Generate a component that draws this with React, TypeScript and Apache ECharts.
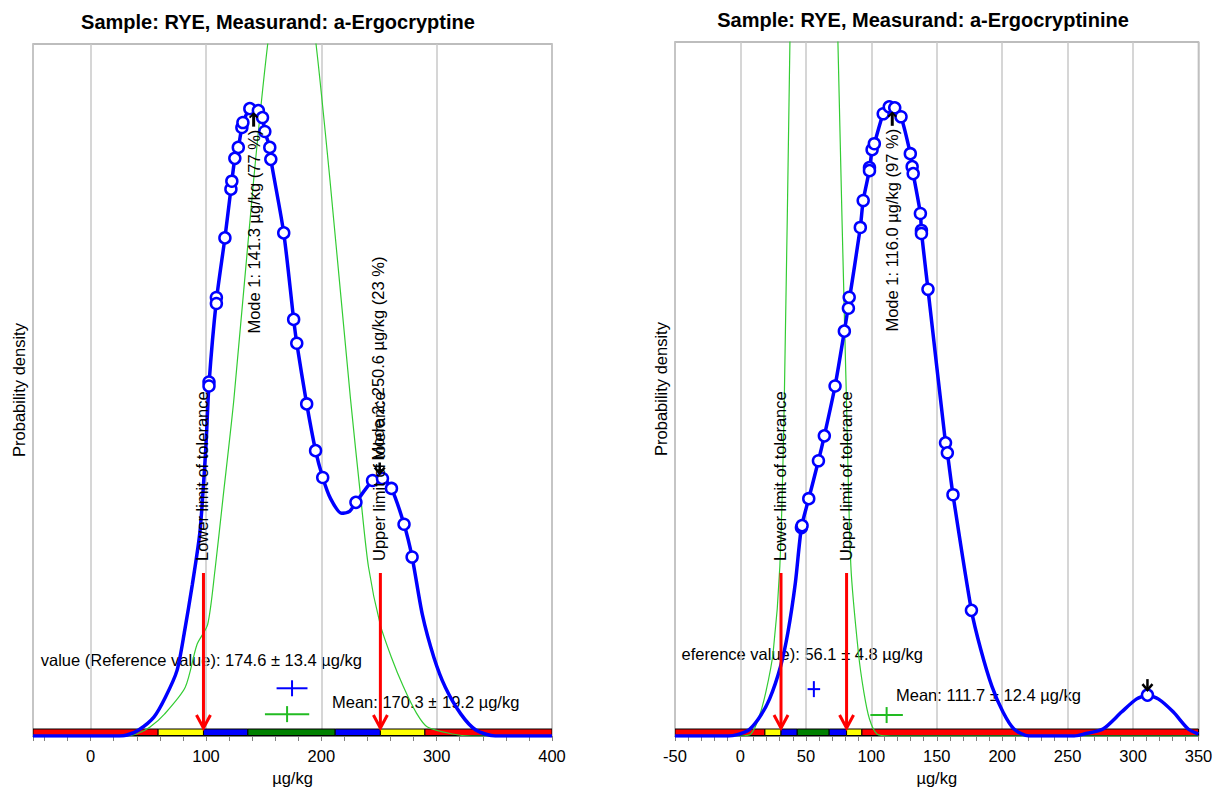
import React, { useEffect, useRef } from "react";
import * as echarts from "echarts";

const FONT = '"Liberation Sans", Arial, Helvetica, sans-serif';
const FS = 16.5;

// ---------------- Left panel: a-Ergocryptine ----------------
const ergTitle = "Sample: RYE, Measurand: a-Ergocryptine";
// kernel density of the participants' results (x in µg/kg, relative density)
const ergDensity = [
  [-50, 0], [25, 0], [31.5, 1], [41.6, 6], [54.8, 19], [64.8, 39], [74.9, 66], [81.5, 106],
  [88.1, 152], [94.8, 206], [99.8, 289], [102.6, 354], [109, 438], [116.4, 501], [121.6, 550],
  [125, 581], [128, 592], [131.1, 612], [134.5, 624], [138, 631], [141.3, 634], [145.4, 629],
  [149, 622], [151, 608], [155.3, 592], [156.2, 580], [167.4, 506], [176, 419], [178.7, 395],
  [187.3, 334], [195, 287], [201.2, 260], [207.9, 239], [217.5, 224], [224.5, 226], [230, 235],
  [244.4, 257], [250.6, 259], [253, 259], [260.8, 249], [271.7, 213], [278.7, 180], [287.6, 122],
  [297.6, 79], [307.5, 49], [321, 22], [334, 6], [350.8, 0], [400, 0],
];
// individual laboratory results placed on the density curve
const ergResults = [
  [102.6, 356], [102.6, 352], [109, 441], [109, 435], [116.4, 501], [121.6, 550], [122.4, 558],
  [125, 581], [128, 592], [131.1, 612], [132, 617], [138, 631], [145.4, 629], [149, 622],
  [151, 608], [155.3, 592], [156.2, 580], [167.4, 506], [176, 419], [178.7, 395], [187.3, 334],
  [195, 287], [201.2, 260], [230, 235], [244.4, 257], [253, 259], [260.8, 249], [271.7, 213],
  [278.7, 180],
];
// normal density around the assigned value
const ergReference = [
  [-50, 0], [30, 0], [40, 2], [51.5, 9], [64, 22], [82, 49], [92.2, 92], [101.4, 112],
  [107.7, 166], [114.7, 239], [124.2, 339], [141.3, 559], [153.4, 695], [164, 785], [174.6, 812],
  [185, 785], [195.5, 695], [207.5, 559], [225.3, 339], [234.4, 237], [240.9, 170], [251.1, 112],
  [260.8, 79], [271, 50], [282.5, 23], [292, 9], [313.6, 2], [330, 0], [400, 0],
];
const ergAssigned = [174.6, 13.4];
const ergMean = [170.3, 19.2];
const ergCrossLevels = [48, 22];
const ergLimits = [97.8, 251.2];
const ergZoneEdges = [58.5, 97.8, 136.3, 212, 251.2, 289.8];
const ergModes = [141.3, 250.6];
const ergModeDensity = [634, 259];
const ergModeShare = [77, 23];

// ---------------- Right panel: a-Ergocryptinine ----------------
const ergnTitle = "Sample: RYE, Measurand: a-Ergocryptinine";
const ergnDensity = [
  [-50, 0], [-9, 0], [5.2, 5], [13.7, 17], [22.2, 37], [30.7, 70], [36.3, 104], [42, 154],
  [46.6, 209], [52.2, 238], [59.6, 276], [64.1, 301], [72.3, 351], [79.4, 406], [82.8, 434],
  [91.6, 510], [93.8, 537], [98.6, 568], [100.6, 588], [102.3, 594], [109.1, 624], [113.7, 631],
  [116, 633], [117.9, 630], [122.7, 621], [129.8, 584], [131.2, 571], [132, 564], [137.5, 524],
  [138.3, 506], [143.3, 448], [156.7, 294], [158.1, 284], [162.4, 242], [176.5, 126], [183.6, 87],
  [192.1, 50], [200.6, 24], [209, 7], [220.4, 0], [255, 0], [262.6, 2], [277, 7], [291.2, 24],
  [302.5, 37], [311, 41], [319.5, 37], [330.8, 24], [342.1, 7], [350, 2],
];
const ergnResults = [
  [46.6, 209], [47.1, 211], [52.2, 238], [59.6, 276], [64.1, 301], [72.3, 351], [79.4, 406],
  [82.5, 429], [83.1, 440], [91.6, 510], [93.8, 537], [98.6, 570], [98.6, 567], [100.6, 588],
  [102.3, 594], [109.1, 624], [113.7, 631], [117.9, 630], [122.7, 621], [129.8, 584], [131.2, 571],
  [132, 564], [137.5, 524], [138.3, 507], [138.3, 504], [143.3, 448], [156.7, 294], [158.1, 284],
  [162.4, 242], [176.5, 126], [311, 41],
];
const ergnReference = [
  [-50, 0], [0, 0], [8, 2], [13.7, 17], [19.4, 44], [25, 84], [30.1, 170], [33.5, 337],
  [37.8, 695], [46, 1400], [56.1, 1800], [64, 1400], [74.5, 695], [81, 337], [84.4, 170],
  [90.1, 84], [94.3, 44], [98.6, 17], [104.3, 2], [115, 0], [350, 0],
];
const ergnAssigned = [56.1, 4.8];
const ergnMean = [111.7, 12.4];
const ergnCrossLevels = [47, 21];
const ergnLimits = [31.0, 81.1];
const ergnZoneEdges = [18.7, 31.0, 43.4, 67.8, 81.1, 92.8];
const ergnModes = [116.0, 311.0];
const ergnModeDensity = [633, 41];
const ergnModeShare = [97, 3];

const ZONE_COLORS = ["#FF0000", "#FFFF00", "#0000FF", "#008000", "#0000FF", "#FFFF00", "#FF0000"];
const LIMIT_LABELS = ["Lower limit of tolerance", "Upper limit of tolerance"];
// visible (clipped) part of the assigned-value caption in each panel
const ASSIGNED_PREFIX = ["value (Reference value): ", "eference value): "];

const panels = [
  {
    title: ergTitle, density: ergDensity, results: ergResults, reference: ergReference,
    assigned: ergAssigned, mean: ergMean, crossLevels: ergCrossLevels, limits: ergLimits,
    zoneEdges: ergZoneEdges, modes: ergModes, modeDensity: ergModeDensity, modeShare: ergModeShare,
    modeLabelShown: [true, true], modeDir: ["up", "down"],
    xMin: -50, xMax: 400, xInterval: 0, showMinLabel: false,
    layout: { left: 33, top: 44, width: 519, height: 696, titleX: 278, titleY: 22, assignedRight: 362, assignedY: 660, meanX: 332, meanY: 702 },
  },
  {
    title: ergnTitle, density: ergnDensity, results: ergnResults, reference: ergnReference,
    assigned: ergnAssigned, mean: ergnMean, crossLevels: ergnCrossLevels, limits: ergnLimits,
    zoneEdges: ergnZoneEdges, modes: ergnModes, modeDensity: ergnModeDensity, modeShare: ergnModeShare,
    modeLabelShown: [true, false], modeDir: ["up", "down"],
    xMin: -50, xMax: 350, xInterval: 50, showMinLabel: true,
    layout: { left: 675, top: 42, width: 523.5, height: 696, titleX: 923, titleY: 20, assignedRight: 923, assignedY: 654, meanX: 896, meanY: 695 },
  },
];

function buildOption() {
  const grid: any[] = [];
  const xAxis: any[] = [];
  const yAxis: any[] = [];
  const series: any[] = [];
  const graphic: any[] = [];

  panels.forEach((p, k) => {
    const L = p.layout;
    grid.push({
      left: L.left, top: L.top, width: L.width, height: L.height, show: true,
      borderColor: "#a8a8a8", borderWidth: 1.5, backgroundColor: "transparent",
    });
    const xa: any = {
      type: "value", gridIndex: k, min: p.xMin, max: p.xMax,
      name: "µg/kg", nameLocation: "middle", nameGap: 33,
      nameTextStyle: { fontSize: FS, color: "#000", fontFamily: FONT },
      axisLine: { show: true, onZero: false, lineStyle: { color: "#808080", width: 1 } },
      axisTick: { show: true, length: 5, lineStyle: { color: "#808080" } },
      minorTick: { show: true, splitNumber: 5, length: 5, lineStyle: { color: "#808080" } },
      axisLabel: { fontSize: FS, color: "#000", fontFamily: FONT, margin: 11, showMinLabel: p.showMinLabel, showMaxLabel: true },
      splitLine: { show: true, lineStyle: { color: "#c8c8c8", width: 1.5 } },
    };
    if (p.xInterval) xa.interval = p.xInterval;
    else xa.splitNumber = 5;
    xAxis.push(xa);
    yAxis.push({
      type: "value", gridIndex: k, min: 0, max: 696,
      name: "Probability density", nameLocation: "middle", nameGap: 6,
      nameTextStyle: { fontSize: FS, color: "#000", fontFamily: FONT },
      axisLine: { show: false }, axisTick: { show: false }, axisLabel: { show: false },
      splitLine: { show: false },
    });

    const edges = [p.xMin, ...p.zoneEdges, p.xMax];
    const zones = edges.slice(0, -1).map((e, i) => [e, edges[i + 1], i]);
    const common = { xAxisIndex: k, yAxisIndex: k, silent: true };

    series.push({
      ...common, type: "custom", z: 1, clip: true, data: zones,
      renderItem: (params: any, api: any) => {
        const s = api.coord([api.value(0), 0]);
        const e = api.coord([api.value(1), 0]);
        return {
          type: "rect",
          shape: { x: s[0], y: s[1] - 7, width: e[0] - s[0], height: 6.5 },
          style: { fill: ZONE_COLORS[api.value(2)], stroke: "#000", lineWidth: 1 },
        };
      },
    });
    series.push({
      ...common, type: "line", z: 2, data: p.reference, showSymbol: false, smooth: 0.25,
      lineStyle: { color: "#33CC33", width: 1.2 },
    });
    series.push({
      ...common, type: "line", z: 3, data: p.density, showSymbol: false, smooth: 0.25,
      lineStyle: { color: "#0000FF", width: 3.5 },
    });
    series.push({
      ...common, type: "scatter", z: 4, data: p.results, symbol: "circle", symbolSize: 11,
      itemStyle: { color: "#ffffff", borderColor: "#0000FF", borderWidth: 2.5, opacity: 1 },
    });
    // tolerance limits: red arrows + rotated labels
    series.push({
      ...common, type: "custom", z: 6, data: p.limits.map((x, i) => [x, 0, i]),
      renderItem: (params: any, api: any) => {
        const [px, by] = api.coord([api.value(0), 0]);
        const red = "#FF0000";
        return {
          type: "group",
          children: [
            { type: "line", shape: { x1: px, y1: by - 163, x2: px, y2: by - 8 }, style: { stroke: red, lineWidth: 3 } },
            { type: "polyline", shape: { points: [[px - 7, by - 21], [px, by - 8], [px + 7, by - 21]] }, style: { stroke: red, fill: null, lineWidth: 3 } },
            {
              type: "text", x: px - 1, y: by - 175, rotation: Math.PI / 2,
              style: { text: LIMIT_LABELS[api.value(2)], fill: "#000", font: `${FS}px ${FONT}`, textAlign: "left", textVerticalAlign: "middle" },
            },
          ],
        };
      },
    });
    // modes: arrows + rotated labels
    series.push({
      ...common, type: "custom", z: 6,
      data: p.modes.map((x, i) => [x, p.modeDensity[i], p.modeShare[i], i]),
      renderItem: (params: any, api: any) => {
        const i = api.value(3);
        const x = api.value(0);
        const [px, py] = api.coord([x, api.value(1)]);
        const up = p.modeDir[i] === "up";
        const children: any[] = [];
        const txt = `Mode ${i + 1}: ${x.toFixed(1)} µg/kg (${api.value(2)} %)`;
        if (up) {
          children.push({ type: "line", shape: { x1: px, y1: py + 8, x2: px, y2: py + 21 }, style: { stroke: "#000", lineWidth: 3 } });
          children.push({ type: "polyline", shape: { points: [[px - 4, py + 12], [px, py + 8], [px + 4, py + 12]] }, style: { stroke: "#000", fill: null, lineWidth: 2 } });
          if (p.modeLabelShown[i]) children.push({
            type: "text", x: px, y: py + 24, rotation: Math.PI / 2,
            style: { text: txt, fill: "#000", font: `${FS}px ${FONT}`, textAlign: "right", textVerticalAlign: "middle" },
          });
        } else {
          children.push({ type: "line", shape: { x1: px, y1: py - 16, x2: px, y2: py - 5 }, style: { stroke: "#000", lineWidth: 2.5 } });
          children.push({ type: "polyline", shape: { points: [[px - 5, py - 11], [px, py - 5], [px + 5, py - 11]] }, style: { stroke: "#000", fill: null, lineWidth: 2.5 } });
          if (p.modeLabelShown[i]) children.push({
            type: "text", x: px - 2, y: py - 18, rotation: Math.PI / 2,
            style: { text: txt, fill: "#000", font: `${FS}px ${FONT}`, textAlign: "left", textVerticalAlign: "middle" },
          });
        }
        return { type: "group", children };
      },
    });
    // crosses: assigned value (blue) and mean (green) with their uncertainties
    const crossColors = ["#0000FF", "#22BB22"];
    series.push({
      ...common, type: "custom", z: 6,
      data: [[p.assigned[0], p.assigned[1], p.crossLevels[0], 0], [p.mean[0], p.mean[1], p.crossLevels[1], 1]],
      renderItem: (params: any, api: any) => {
        const x = api.value(0), u = api.value(1), lv = api.value(2);
        const c = api.coord([x, lv]);
        const l = api.coord([x - u, lv]);
        const r = api.coord([x + u, lv]);
        const col = crossColors[api.value(3)];
        return {
          type: "group",
          children: [
            { type: "line", shape: { x1: l[0], y1: c[1], x2: r[0], y2: c[1] }, style: { stroke: col, lineWidth: 2 } },
            { type: "line", shape: { x1: c[0], y1: c[1] - 8, x2: c[0], y2: c[1] + 8 }, style: { stroke: col, lineWidth: 2 } },
          ],
        };
      },
    });

    graphic.push({
      type: "text", x: L.titleX, y: L.titleY,
      style: { text: p.title, fill: "#000", font: `bold 20px ${FONT}`, textAlign: "center", textVerticalAlign: "middle" },
    });
    graphic.push({
      type: "text", x: L.assignedRight, y: L.assignedY,
      style: {
        text: `${ASSIGNED_PREFIX[k]}${p.assigned[0].toFixed(1)} ± ${p.assigned[1].toFixed(1)} µg/kg`,
        fill: "#000", font: `${FS}px ${FONT}`, textAlign: "right", textVerticalAlign: "middle",
      },
    });
    graphic.push({
      type: "text", x: L.meanX, y: L.meanY,
      style: { text: `Mean: ${p.mean[0].toFixed(1)} ± ${p.mean[1].toFixed(1)} µg/kg`, fill: "#000", font: `${FS}px ${FONT}`, textAlign: "left", textVerticalAlign: "middle" },
    });
  });

  return { animation: false, backgroundColor: "#ffffff", grid, xAxis, yAxis, series, graphic };
}

export default function App() {
  const ref = useRef<HTMLDivElement>(null);
  useEffect(() => {
    const chart = echarts.init(ref.current as HTMLDivElement, null, { renderer: "svg" });
    chart.setOption(buildOption() as any);
    return () => chart.dispose();
  }, []);
  return (
    <div
      ref={ref}
      style={{ position: "absolute", left: 0, top: 0, width: 1216, height: 791, background: "#fff" }}
    />
  );
}
